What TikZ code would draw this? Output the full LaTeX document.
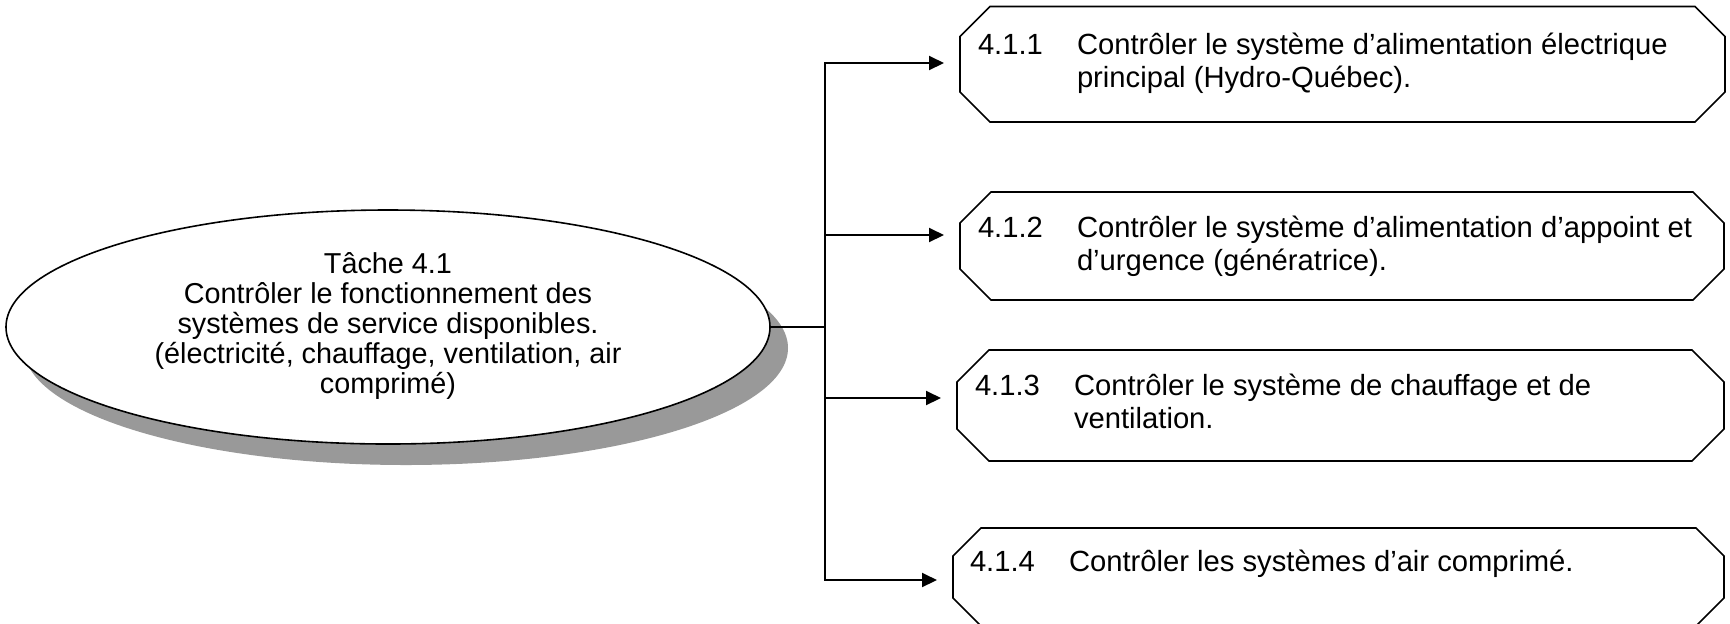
\documentclass[tikz,border=0pt]{standalone}
\usepackage{fontspec}
\setmainfont{Liberation Sans}
\usetikzlibrary{arrows.meta,shapes.geometric,calc}
\definecolor{shadowgray}{RGB}{153,153,153}
\newcommand\octbox[2]{%
  \draw[octline] ([xshift=#2]#1.north west) -- ([xshift=-#2]#1.north east)
    -- ([yshift=-#2]#1.north east) -- ([yshift=#2]#1.south east)
    -- ([xshift=-#2]#1.south east) -- ([xshift=#2]#1.south west)
    -- ([yshift=#2]#1.south west) -- ([yshift=-#2]#1.north west) -- cycle;}
\begin{document}
\begin{tikzpicture}[x=0.5pt,y=-0.5pt,
  txt/.style={font=\fontsize{14.4pt}{16pt}\selectfont, inner sep=0pt, outer sep=0pt},
  btxt/.style={font=\fontsize{14.6pt}{16pt}\selectfont, inner sep=0pt, outer sep=0pt, anchor=base west},
  boxarea/.style={rectangle, inner sep=0pt, outer sep=0pt, anchor=north west},
  octline/.style={draw=black, line width=0.8pt, fill=white, line join=miter},
  conn/.style={draw=black, line width=1pt},
  arr/.style={conn, -{Triangle[length=7.5pt,width=7pt]}, shorten >=8pt},
  ell/.style={ellipse, minimum width=382pt, minimum height=117pt, inner sep=0pt, outer sep=0pt}
]
\useasboundingbox (0,0) rectangle (1730,623);
\fill[white] (0,0) rectangle (1730,623);

% central task ellipse with shadow
\node[ell, fill=shadowgray] (shadow) at (406,348) {};
\node[ell, draw=black, line width=0.8pt, fill=white] (task) at (388,327) {};
\node[txt, anchor=base] (t1) at (388,273) {Tâche 4.1};
\node[txt, anchor=base] (t2) at (388,303) {Contrôler le fonctionnement des};
\node[txt, anchor=base] (t3) at (388,333) {systèmes de service disponibles.};
\node[txt, anchor=base] (t4) at (388,363) {(électricité, chauffage, ventilation, air};
\node[txt, anchor=base] (t5) at (388,393) {comprimé)};

% octagon boxes
\node[boxarea, minimum width=382.5pt, minimum height=57.75pt] (b1) at (960,6.5) {};
\octbox{b1}{15pt}
\node[boxarea, minimum width=382pt, minimum height=54pt] (b2) at (960,192) {};
\octbox{b2}{15.5pt}
\node[boxarea, minimum width=383.5pt, minimum height=55.5pt] (b3) at (957,350) {};
\octbox{b3}{16pt}
\node[boxarea, minimum width=385.5pt, minimum height=49pt] (b4) at (953,528) {};
\octbox{b4}{14pt}

% box texts
\node[btxt] (n1) at (978,54) {4.1.1};
\node[btxt] (l1a) at (1077,54) {Contrôler le système d’alimentation électrique};
\node[btxt] (l1b) at (1077,87) {principal (Hydro-Québec).};

\node[btxt] (n2) at (978,237) {4.1.2};
\node[btxt] (l2a) at (1077,237) {Contrôler le système d’alimentation d’appoint et};
\node[btxt] (l2b) at (1077,270) {d’urgence (génératrice).};

\node[btxt] (n3) at (975,395) {4.1.3};
\node[btxt] (l3a) at (1074,395) {Contrôler le système de chauffage et de};
\node[btxt] (l3b) at (1074,428) {ventilation.};

\node[btxt] (n4) at (970,571) {4.1.4};
\node[btxt] (l4a) at (1069,571) {Contrôler les systèmes d’air comprimé.};

% connectors
\coordinate (j1) at (825,63);
\coordinate (j2) at (825,235);
\coordinate (j0) at (825,327);
\coordinate (j3) at (825,398);
\coordinate (j4) at (825,580);
\draw[conn] (task.east) -- (j0);
\draw[conn, line cap=rect] (j1) -- (j4);
\draw[arr] (j1) -- (j1 -| b1.west);
\draw[arr] (j2) -- (j2 -| b2.west);
\draw[arr] (j3) -- (j3 -| b3.west);
\draw[arr] (j4) -- (j4 -| b4.west);
\end{tikzpicture}
\end{document}
